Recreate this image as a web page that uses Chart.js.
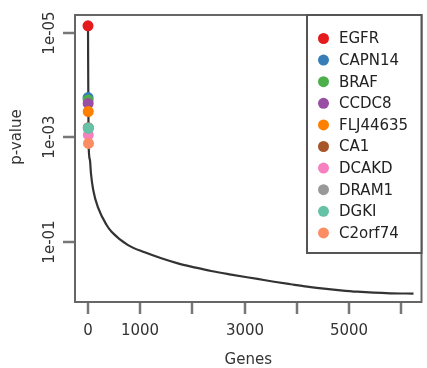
<!DOCTYPE html>
<html>
<head>
<meta charset="utf-8">
<script src="https://cdn.jsdelivr.net/npm/chart.js@4.4.1/dist/chart.umd.min.js"></script>
<style>
  html, body { margin: 0; padding: 0; background: #fff; }
  #wrap { width: 427px; height: 368px; }
</style>
</head>
<body>
<div id="wrap"><canvas id="chart" width="427" height="368"></canvas></div>
<script>
// --- DATA ---
const genes = ['EGFR', 'CAPN14', 'BRAF', 'CCDC8', 'FLJ44635', 'CA1', 'DCAKD', 'DRAM1', 'DGKI', 'C2orf74'];
const geneColors = ['#E41A1C', '#377EB8', '#4DAF4A', '#984EA3', '#FF7F00', '#A65628', '#F781BF', '#999999', '#66C2A5', '#FC8D62'];
const geneRanks = [1, 2, 3, 4, 5, 6, 7, 8, 9, 10];
const genePvals = [7.2e-6, 1.71e-4, 1.91e-4, 2.22e-4, 3.17e-4, 6.5e-4, 8.95e-4, 6.6e-4, 6.65e-4, 1.30e-3];

// sorted p-values of all genes
const curveRanks = [1, 12, 38, 57, 101, 196, 357, 452, 768, 1087, 1405, 1722, 2039, 2358, 2740, 3247, 3565, 3884, 4200, 4519, 4837, 5154, 5472, 5791, 6234];
const curvePvals = [7.2e-6, 1.3e-3, 2.7e-3, 4.8e-3, 1.02e-2, 2.25e-2, 4.77e-2, 6.43e-2, 0.116, 0.160, 0.208, 0.260, 0.310, 0.365, 0.427, 0.518, 0.586, 0.655, 0.728, 0.794, 0.855, 0.910, 0.951, 0.976, 0.99];

const xTicks = [0, 1000, 2000, 3000, 4000, 5000, 6000];
const xTickLabels = ['0', '1000', '', '3000', '', '5000', ''];
const yTicks = [1e-5, 1e-3, 1e-1];
const yTickLabels = ['1e-05', '1e-03', '1e-01'];

const FONT = '15px "DejaVu Sans", Verdana, sans-serif';

// --- R STYLE AXES + LEGEND ---
const rAxes = {
    id: 'rAxes',
    afterDraw(chart) {
        const { ctx, chartArea: a, scales: { x, y } } = chart;
        ctx.save();

        // box
        ctx.strokeStyle = '#666';
        ctx.lineWidth = 2;
        ctx.strokeRect(a.left, a.top, a.right - a.left, a.bottom - a.top);

        ctx.font = FONT;
        ctx.fillStyle = '#333';
        ctx.textAlign = 'center';
        ctx.textBaseline = 'middle';

        // x axis
        ctx.strokeStyle = '#777';
        ctx.lineWidth = 2.5;
        xTicks.forEach((v, i) => {
            const px = Math.round(x.getPixelForValue(v));
            ctx.beginPath();
            ctx.moveTo(px, a.bottom + 1);
            ctx.lineTo(px, a.bottom + 12);
            ctx.stroke();
            if (xTickLabels[i]) ctx.fillText(xTickLabels[i], px, 331);
        });
        ctx.fillText('Genes', (a.left + a.right) / 2, 360);

        // y axis
        yTicks.forEach((v, i) => {
            const py = Math.round(y.getPixelForValue(v));
            ctx.beginPath();
            ctx.moveTo(a.left - 1, py);
            ctx.lineTo(a.left - 12, py);
            ctx.stroke();
            ctx.save();
            ctx.translate(50, py);
            ctx.rotate(-Math.PI / 2);
            ctx.fillText(yTickLabels[i], 0, 0);
            ctx.restore();
        });
        ctx.save();
        ctx.translate(17, 137);
        ctx.rotate(-Math.PI / 2);
        ctx.fillText('p-value', 0, 0);
        ctx.restore();

        // legend
        const lx = 307, ly = 15, lw = a.right - lx, lh = 238;
        ctx.fillStyle = '#fff';
        ctx.fillRect(lx, ly, lw, lh);
        ctx.strokeStyle = '#555';
        ctx.lineWidth = 2;
        ctx.strokeRect(lx, ly, lw, lh);
        ctx.textAlign = 'left';
        genes.forEach((g, i) => {
            const cy = 38.5 + i * 21.6;
            ctx.fillStyle = geneColors[i];
            ctx.beginPath();
            ctx.arc(323.5, cy, 5.5, 0, Math.PI * 2);
            ctx.fill();
            ctx.fillStyle = '#222';
            ctx.fillText(g, 339, cy + 1);
        });

        ctx.restore();
    }
};

// --- CHART ---
const ctx = document.getElementById('chart').getContext('2d');

new Chart(ctx, {
    type: 'scatter',
    data: {
        datasets: [{
            label: 'genes',
            data: geneRanks.map((r, i) => ({ x: r, y: genePvals[i] })),
            backgroundColor: geneColors,
            pointRadius: 5.5,
            pointBorderWidth: 0,
            showLine: false
        }, {
            label: 'all genes',
            data: curveRanks.map((r, i) => ({ x: r, y: curvePvals[i] })),
            showLine: true,
            borderColor: '#333',
            borderWidth: 2.2,
            pointRadius: 0,
            cubicInterpolationMode: 'monotone'
        }]
    },
    options: {
        responsive: false,
        animation: false,
        layout: { padding: { left: 75, top: 15, right: 4, bottom: 66 } },
        plugins: {
            legend: { display: false },
            tooltip: { enabled: false }
        },
        scales: {
            x: { type: 'linear', min: -248, max: 6387, display: false },
            y: { type: 'logarithmic', reverse: true, min: 4.46e-6, max: 1.435, display: false }
        }
    },
    plugins: [rAxes]
});
</script>
</body>
</html>
